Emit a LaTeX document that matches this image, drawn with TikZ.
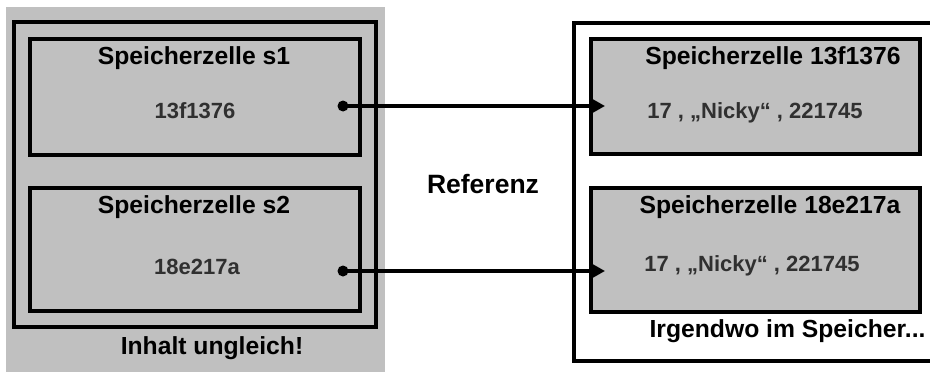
\documentclass[tikz,border=0pt]{standalone}
\usepackage{fontspec}
\setmainfont{Liberation Sans}
\usetikzlibrary{arrows.meta,calc}
\definecolor{cellgray}{HTML}{C0C0C0}
\definecolor{valtext}{HTML}{303030}
\begin{document}
\begin{tikzpicture}[x=1pt,y=-1pt,
  cellbox/.style={draw,line width=4pt,rectangle,inner sep=0pt},
  frame/.style={draw,line width=4pt},
  title/.style={anchor=base,inner sep=0pt,font=\fontsize{24.7}{28}\selectfont\bfseries},
  valtxt/.style={anchor=base,inner sep=0pt,text=valtext,font=\fontsize{22}{26}\selectfont\bfseries},
  dotnode/.style={circle,fill=black,minimum size=11pt,inner sep=0pt},
  refarrow/.style={line width=3.5pt,-{Triangle[length=16pt,width=17pt]}}]
\useasboundingbox (0,0) rectangle (930,372);
% background of left part
\fill[cellgray] (6,7) rectangle (385,372);
% left frame
\node[cellbox,minimum width=361.5pt,minimum height=305pt] (lframe) at (194.75,174.5) {};
% right frame (open on the right)
\draw[frame] (935,23) -- (574,23) -- (574,361) -- (935,361);
% left cells
\node[cellbox,minimum width=329.5pt,minimum height=116pt] (s1box) at (194.75,97) {};
\node[cellbox,minimum width=329.5pt,minimum height=123pt] (s2box) at (194.75,249.5) {};
% right cells
\node[cellbox,fill=cellgray,minimum width=328.5pt,minimum height=115pt] (r1box) at (755.25,96.5) {};
\node[cellbox,fill=cellgray,minimum width=328.5pt,minimum height=124pt] (r2box) at (755.25,250) {};
% texts
\node[title] (t1) at (194,64) {Speicherzelle s1};
\node[valtxt] (v1) at (195,118) {13f1376};
\node[title] (t2) at (194,213) {Speicherzelle s2};
\node[valtxt] (v2) at (197,274) {18e217a};
\node[title] (lcap) at (212,354) {Inhalt ungleich!};
\node[title,font=\fontsize{26.5}{30}\selectfont\bfseries] (ref) at (483,193) {Referenz};
\node[title] (t3) at (773,64) {Speicherzelle 13f1376};
\node[valtxt] (v3) at (755,118) {17 , „Nicky“ , 221745};
\node[title] (t4) at (770,213) {Speicherzelle 18e217a};
\node[valtxt] (v4) at (752,271) {17 , „Nicky“ , 221745};
\node[title] (rcap) at (787.5,337) {Irgendwo im Speicher...};
% dots and arrows
\node[dotnode] (d1) at (343,106) {};
\node[dotnode] (d2) at (343,271) {};
\draw[refarrow] (d1.center) -- ($(r1box.west |- d1)+(16,0)$);
\draw[refarrow] (d2.center) -- ($(r2box.west |- d2)+(16,0)$);
\end{tikzpicture}
\end{document}
